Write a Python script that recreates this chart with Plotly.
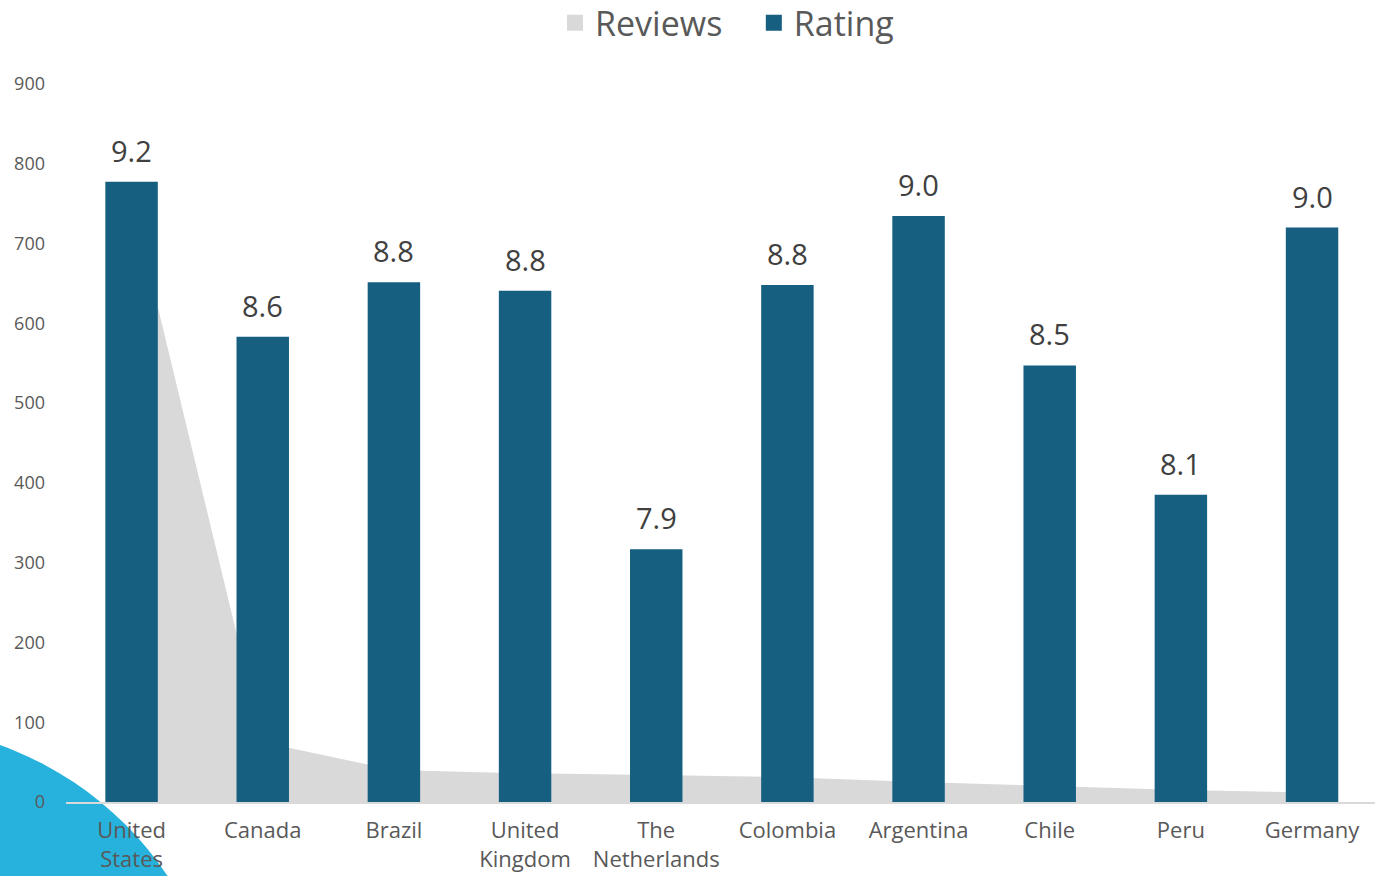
import plotly.graph_objects as go

countries = ["United<br>States", "Canada", "Brazil", "United<br>Kingdom", "The<br>Netherlands",
             "Colombia", "Argentina", "Chile", "Peru", "Germany"]
reviews = [757, 75, 40, 36, 34, 31, 25, 20, 15, 12]
rating = [9.16, 8.62, 8.81, 8.78, 7.88, 8.80, 9.04, 8.52, 8.07, 9.00]
review_ticks = [0, 100, 200, 300, 400, 500, 600, 700, 800, 900]

FONT = "Open Sans"
BAR = "#165f81"
GREY = "#d9d9d9"
TXT = "#595959"

fig = go.Figure()

# reviews as a grey area behind the bars
fig.add_trace(go.Scatter(
    x=countries, y=reviews, name="Reviews", showlegend=False,
    mode="none", fill="tozeroy", fillcolor=GREY,
))

# rating bars on a hidden secondary axis
fig.add_trace(go.Bar(
    x=countries, y=rating, name="Rating", yaxis="y2", showlegend=False,
    marker=dict(color=BAR, line=dict(width=0)),
))

# legend entries drawn as squares (Excel style)
for name, col in [("Reviews   ", GREY), ("Rating", BAR)]:
    fig.add_trace(go.Scatter(
        x=[countries[0]], y=[-100], name=name, mode="markers", showlegend=True,
        marker=dict(symbol="square", size=20, color=col),
        hoverinfo="skip",
    ))

# rating labels above bars
for c, r in zip(countries, rating):
    fig.add_annotation(
        x=c, y=r, xref="x", yref="y2", text=f"{r:.1f}",
        showarrow=False, yanchor="bottom", yshift=10,
        font=dict(family=FONT, size=29, color="#404040"),
    )

# decorative cyan circle in the lower-left corner
fig.add_shape(
    type="circle", xref="paper", yref="paper",
    x0=-0.3977, x1=0.1214, y0=-0.8398, y1=0.1072,
    fillcolor="#27b2dd", line=dict(width=0), layer="below",
)

fig.update_layout(
    width=1375, height=876,
    margin=dict(l=66, r=0, t=84, b=74, autoexpand=False),
    paper_bgcolor="white", plot_bgcolor="rgba(0,0,0,0)",
    bargap=0.6,
    font=dict(family=FONT, color=TXT),
    showlegend=True,
    legend=dict(
        orientation="h", x=0.505, xanchor="center", y=1.125, yanchor="top",
        font=dict(size=34, color=TXT), itemwidth=30,
    ),
    xaxis=dict(
        range=[-0.5, 9.48], showgrid=False, showline=True, linecolor=GREY, linewidth=1.5,
        ticks="", tickfont=dict(size=22, color=TXT), ticklabelstandoff=8,
    ),
    yaxis=dict(
        range=[0, 900], tickvals=review_ticks, showgrid=False, zeroline=False,
        showline=False, ticks="", tickfont=dict(size=18, color=TXT), ticklabelstandoff=20,
    ),
    yaxis2=dict(
        overlaying="y", side="right", range=[7, 9.5], visible=False, showgrid=False,
    ),
)

fig.write_html("out.html", config={"displayModeBar": False},
               post_script="document.body.style.margin='0';")
